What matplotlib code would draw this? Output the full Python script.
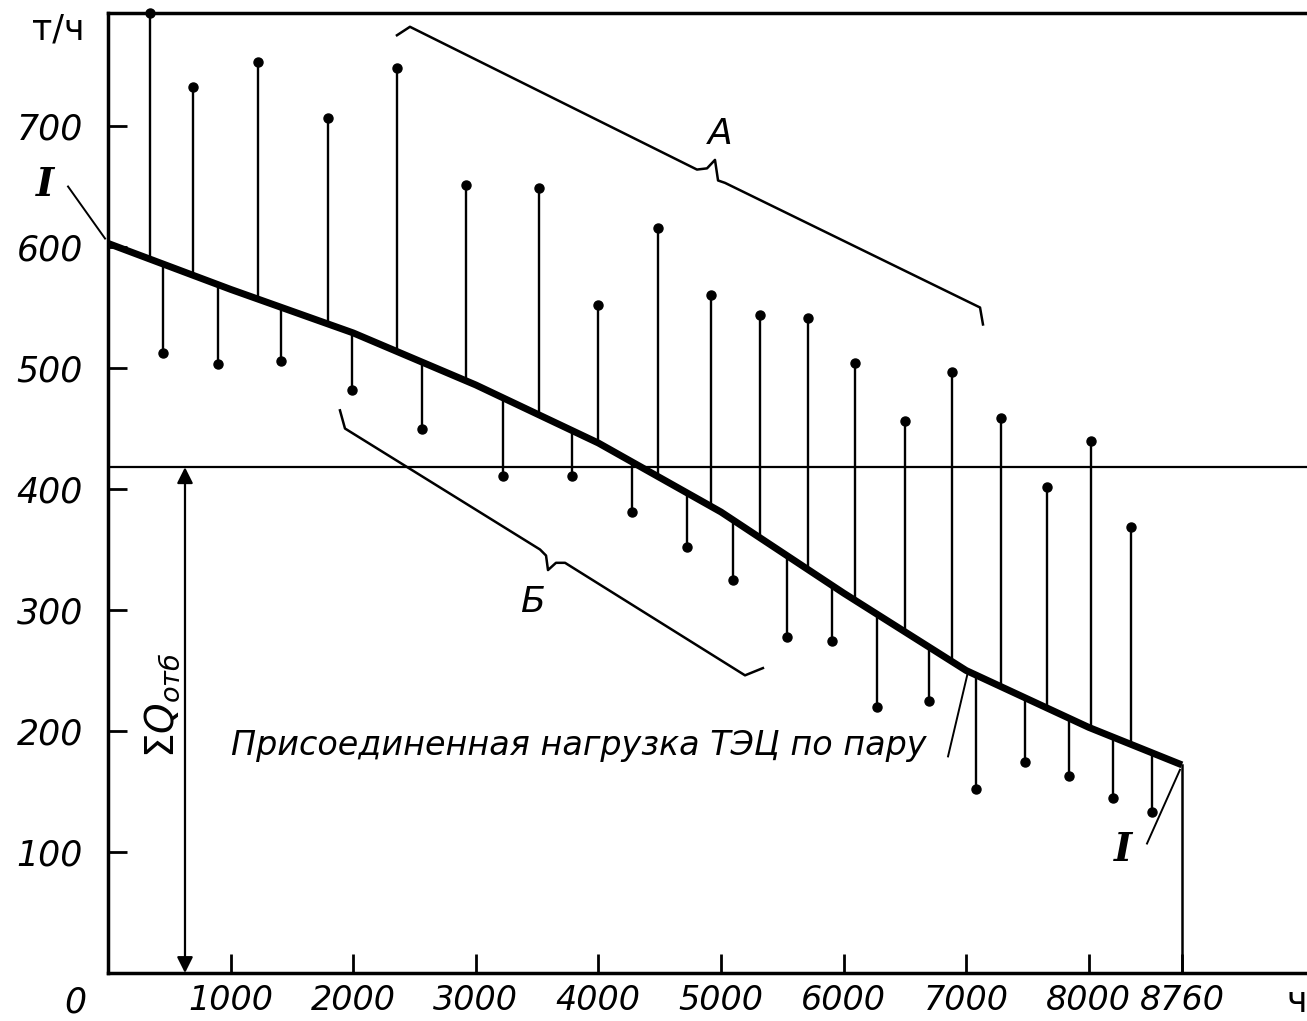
import numpy as np
import matplotlib.pyplot as plt

# steam load duration curve (т/ч) vs hours
curve_h = [0, 1000, 2000, 3000, 4000, 5000, 6000, 7000, 8000, 8760]
curve_q = [603, 565, 529, 486, 438, 381, 314, 250, 203, 172]

# extraction demand points above the curve (zone A)
up_h = [340, 693, 1223, 1794, 2357, 2920, 3515, 3997, 4486, 4918,
        5318, 5710, 6093, 6501, 6884, 7284, 7659, 8018, 8344]
up_q = [793, 732, 753, 707, 748, 651, 649, 552, 616, 560,
        544, 541, 504, 456, 497, 459, 402, 440, 369]

# points below the curve (zone Б)
lo_h = [449, 897, 1411, 1990, 2561, 3222, 3785, 4274, 4723, 5098,
        5538, 5905, 6272, 6697, 7080, 7480, 7838, 8197, 8515]
lo_q = [512, 503, 506, 482, 450, 411, 411, 381, 352, 325,
        278, 274, 220, 225, 152, 174, 163, 145, 133]

q_otb = 418
xticks = [1000, 2000, 3000, 4000, 5000, 6000, 7000, 8000, 8760]
yticks = [100, 200, 300, 400, 500, 600, 700]

plt.rcParams['font.family'] = 'DejaVu Sans'
fs = 25

fig = plt.figure(figsize=(13.07, 10.21), dpi=100)
ax = fig.add_axes([108/1307, 1-973/1021, 1199/1307, 960/1021])
ax.set_xlim(0, 9780)
ax.set_ylim(0, 793.4)

def curve_at(h):
    return np.interp(h, curve_h, curve_q)

# stems
for h, q in zip(up_h + lo_h, up_q + lo_q):
    ax.plot([h, h], [curve_at(h), q], color='black', lw=1.7, zorder=2)
ax.plot(up_h, up_q, 'o', color='black', ms=6.5, zorder=3, clip_on=False)
ax.plot(lo_h, lo_q, 'o', color='black', ms=6.5, zorder=3)

# main curve
ax.plot(curve_h, curve_q, color='black', lw=5, solid_capstyle='butt', zorder=4)
ax.plot([curve_h[-1], curve_h[-1]], [0, curve_q[-1]], color='black', lw=1.8)

# sum of extractions level
ax.axhline(q_otb, color='black', lw=1.6)
ax.annotate('', xy=(628, 0), xytext=(628, q_otb),
            arrowprops=dict(arrowstyle='<|-|>', color='black', lw=1.6,
                            mutation_scale=24, shrinkA=0, shrinkB=0))
ax.text(440, 221, r'$\Sigma Q_{отб}$', rotation=90, fontsize=28,
        ha='center', va='center')

# brace A
ax.plot([2357, 2463, 4804, 4886, 4951, 4976, 5033, 7113, 7137],
        [775, 782, 664, 665, 672, 655, 653, 550, 536], color='black', lw=1.8)
ax.text(4992, 693, 'А', fontsize=26, style='italic', ha='center', va='center')

# brace Б
ax.plot([1892, 1933, 3524, 3573, 3589, 3654, 3728, 5196, 5342],
        [465, 450, 350, 345, 333, 339, 339, 246, 252], color='black', lw=1.8)
ax.text(3458, 307, 'Б', fontsize=26, style='italic', ha='center', va='center')

# curve labels I
ax.text(-514, 651, 'I', fontsize=28, fontweight='bold', style='italic',
        family='DejaVu Serif', ha='center', va='center', clip_on=False)
ax.plot([-326, -24], [650, 607], color='black', lw=1.4, clip_on=False)
ax.text(8279, 102, 'I', fontsize=28, fontweight='bold', style='italic',
        family='DejaVu Serif', ha='center', va='center')
ax.plot([8475, 8744], [107, 168], color='black', lw=1.4)

ax.text(1000, 188, 'Присоединенная нагрузка ТЭЦ по пару', fontsize=24,
        style='italic', ha='left', va='center')
ax.plot([6852, 7015], [179, 249], color='black', lw=1.4)

# axes styling
for s in ['left', 'bottom', 'top']:
    ax.spines[s].set_linewidth(2.5)
ax.spines['right'].set_visible(False)
ax.set_xticks(xticks)
ax.set_xticklabels([str(t) for t in xticks], fontsize=24, style='italic')
ax.set_yticks(yticks)
ax.set_yticklabels([str(t) for t in yticks], fontsize=fs, style='italic')
ax.tick_params(axis='both', direction='in', length=14, width=2)
ax.tick_params(axis='x', pad=8)
ax.tick_params(axis='y', pad=18)
ax.text(-270, -24, '0', fontsize=fs, style='italic', ha='center', va='center',
        clip_on=False)
ax.text(-408, 780, 'т/ч', fontsize=fs, ha='center', va='center', clip_on=False)
ax.text(9700, -24, 'ч', fontsize=fs, ha='center', va='center', clip_on=False)

fig.savefig('out.png', dpi=100)
